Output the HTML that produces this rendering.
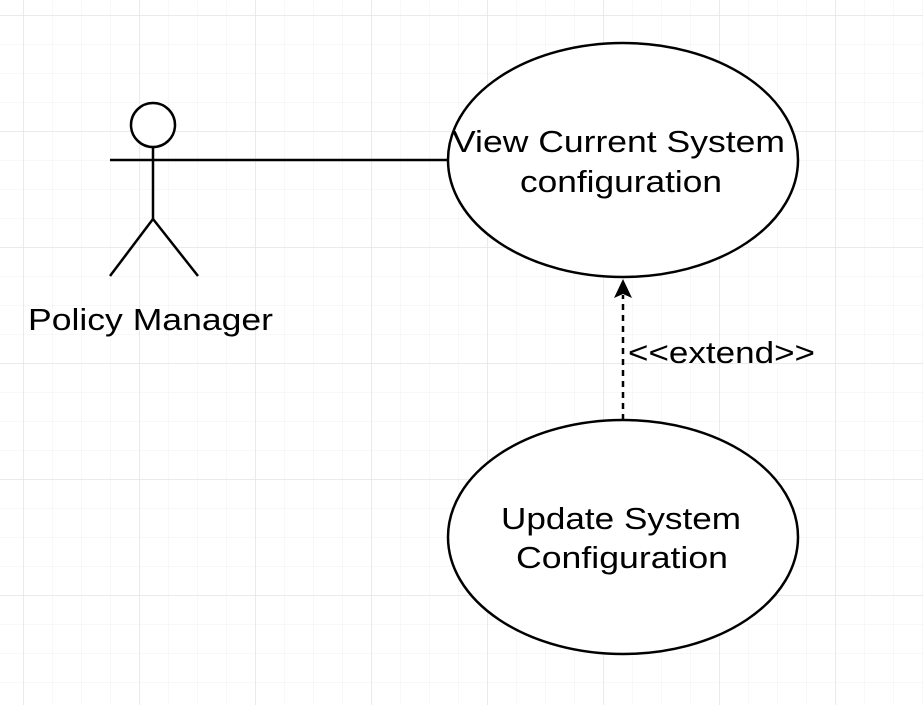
<!DOCTYPE html>
<html><head><style>
html,body{margin:0;padding:0;background:#fff;}
</style></head><body>
<svg width="923" height="705" xmlns="http://www.w3.org/2000/svg" style="display:block">
<defs>
<pattern id="minor" x="23" y="15" width="29" height="29" patternUnits="userSpaceOnUse">
<path d="M0 0H29M0 0V29" stroke="#f0f0f0" stroke-width="1" fill="none"/>
</pattern>
<pattern id="major" x="23" y="15" width="116" height="116" patternUnits="userSpaceOnUse">
<path d="M0 0H116M0 0V116" stroke="#e4e4e4" stroke-width="1.5" fill="none"/>
</pattern>
</defs>
<rect width="923" height="705" fill="url(#minor)"/>
<rect width="923" height="705" fill="url(#major)"/>
<g stroke="#000" stroke-width="2.5" fill="none">
<circle cx="153" cy="125" r="22" fill="#fff"/>
<line x1="110" y1="160" x2="448" y2="160"/>
<line x1="153" y1="147" x2="153" y2="219"/>
<line x1="153" y1="219" x2="110" y2="276"/>
<line x1="153" y1="219" x2="198" y2="276"/>
<ellipse cx="623" cy="160" rx="175" ry="117" fill="#fff"/>
<ellipse cx="623" cy="537" rx="175" ry="117" fill="#fff"/>
<line x1="623" y1="420" x2="623" y2="295" stroke-dasharray="6,5"/>
</g>
<polygon points="623,279 614,298 623,294 632,298" fill="#000"/>
<g font-family="Liberation Sans, sans-serif" font-size="31" fill="#000" lengthAdjust="spacingAndGlyphs">
<text x="28" y="330" textLength="245" lengthAdjust="spacingAndGlyphs">Policy Manager</text>
<text x="452" y="152" textLength="333" lengthAdjust="spacingAndGlyphs">View Current System</text>
<text x="520" y="192" textLength="202" lengthAdjust="spacingAndGlyphs">configuration</text>
<text x="501" y="529" textLength="240" lengthAdjust="spacingAndGlyphs">Update System</text>
<text x="516" y="568" textLength="212" lengthAdjust="spacingAndGlyphs">Configuration</text>
<text x="628" y="363" textLength="187" lengthAdjust="spacingAndGlyphs">&lt;&lt;extend&gt;&gt;</text>
</g>
</svg>
</body></html>
